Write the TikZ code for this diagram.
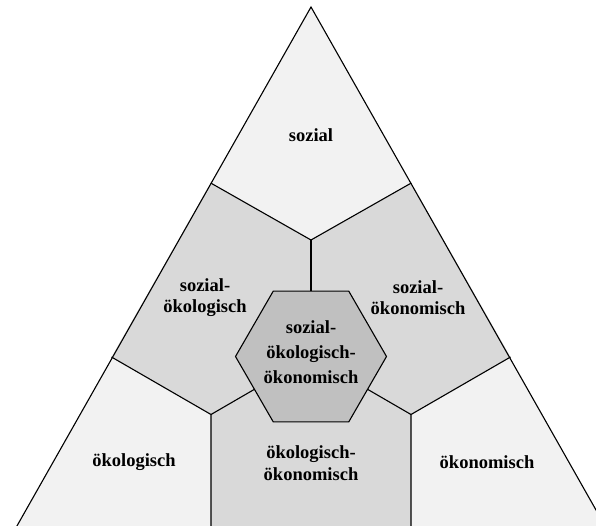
\documentclass[tikz,border=0pt]{standalone}
\usepackage{fontspec}
\setmainfont{Liberation Serif}
\usetikzlibrary{calc}
\definecolor{lightfill}{HTML}{F2F2F2}
\definecolor{midfill}{HTML}{D9D9D9}
\definecolor{hexfill}{HTML}{C0C0C0}
\begin{document}
\begin{tikzpicture}[x=1pt,y=-1pt,
  edge/.style={draw=black,line width=1.1pt,line join=miter},
  lbl/.style={font=\fontsize{18.5}{21.5}\selectfont\bfseries,align=center,inner sep=0pt},
  hexlbl/.style={font=\fontsize{18.5}{25}\selectfont\bfseries,align=center,inner sep=0pt}]
\useasboundingbox (0,0) rectangle (596,526);
\clip (0,0) rectangle (596,526);
% key points
\coordinate (A) at (311,7);
\coordinate (L) at (-25,600);
\coordinate (R) at (647,600);
\coordinate (TL) at (210.7,183);
\coordinate (TR) at (411.3,183);
\coordinate (C) at (311,240);
\coordinate (ML) at (111.5,357);
\coordinate (MR) at (510.5,357);
\coordinate (BL) at (211,414.5);
\coordinate (BR) at (411,414.5);
\coordinate (BLb) at (211,560);
\coordinate (BRb) at (411,560);
\coordinate (H) at (311,356.5);
% fills
\fill[lightfill] (A) -- (L) -- (R) -- cycle;
\fill[midfill] (TL) -- (C) -- (TR) -- (MR) -- (BR) -- (BRb) -- (BLb) -- (BL) -- (ML) -- cycle;
% boundaries
\draw[edge] (L) -- (A) -- (R);
\draw[edge] (TL) -- (C) -- (TR);
\draw[edge] (C) -- (H);
\draw[edge] (ML) -- (BL) -- (BLb);
\draw[edge] (MR) -- (BR) -- (BRb);
\draw[edge] (BL) -- (H);
\draw[edge] (BR) -- (H);
% hexagon
\draw[edge,fill=hexfill] ($(H)+(0:75.5)$) \foreach \a in {60,120,...,300} { -- ($(H)+(\a:75.5)$) } -- cycle;
% labels
\node[lbl] (soz) at (311,135) {sozial};
\node[lbl] (sozoek) at (205,297.5) {sozial-\\ökologisch};
\node[lbl] (sozoekon) at (418,297.5) {sozial-\\ökonomisch};
\node[hexlbl] (all) at (311,352) {sozial-\\ökologisch-\\ökonomisch};
\node[lbl] (oek) at (134,462) {ökologisch};
\node[lbl] (oekoekon) at (311,463) {ökologisch-\\ökonomisch};
\node[lbl] (oekon) at (487,462) {ökonomisch};
\end{tikzpicture}
\end{document}
